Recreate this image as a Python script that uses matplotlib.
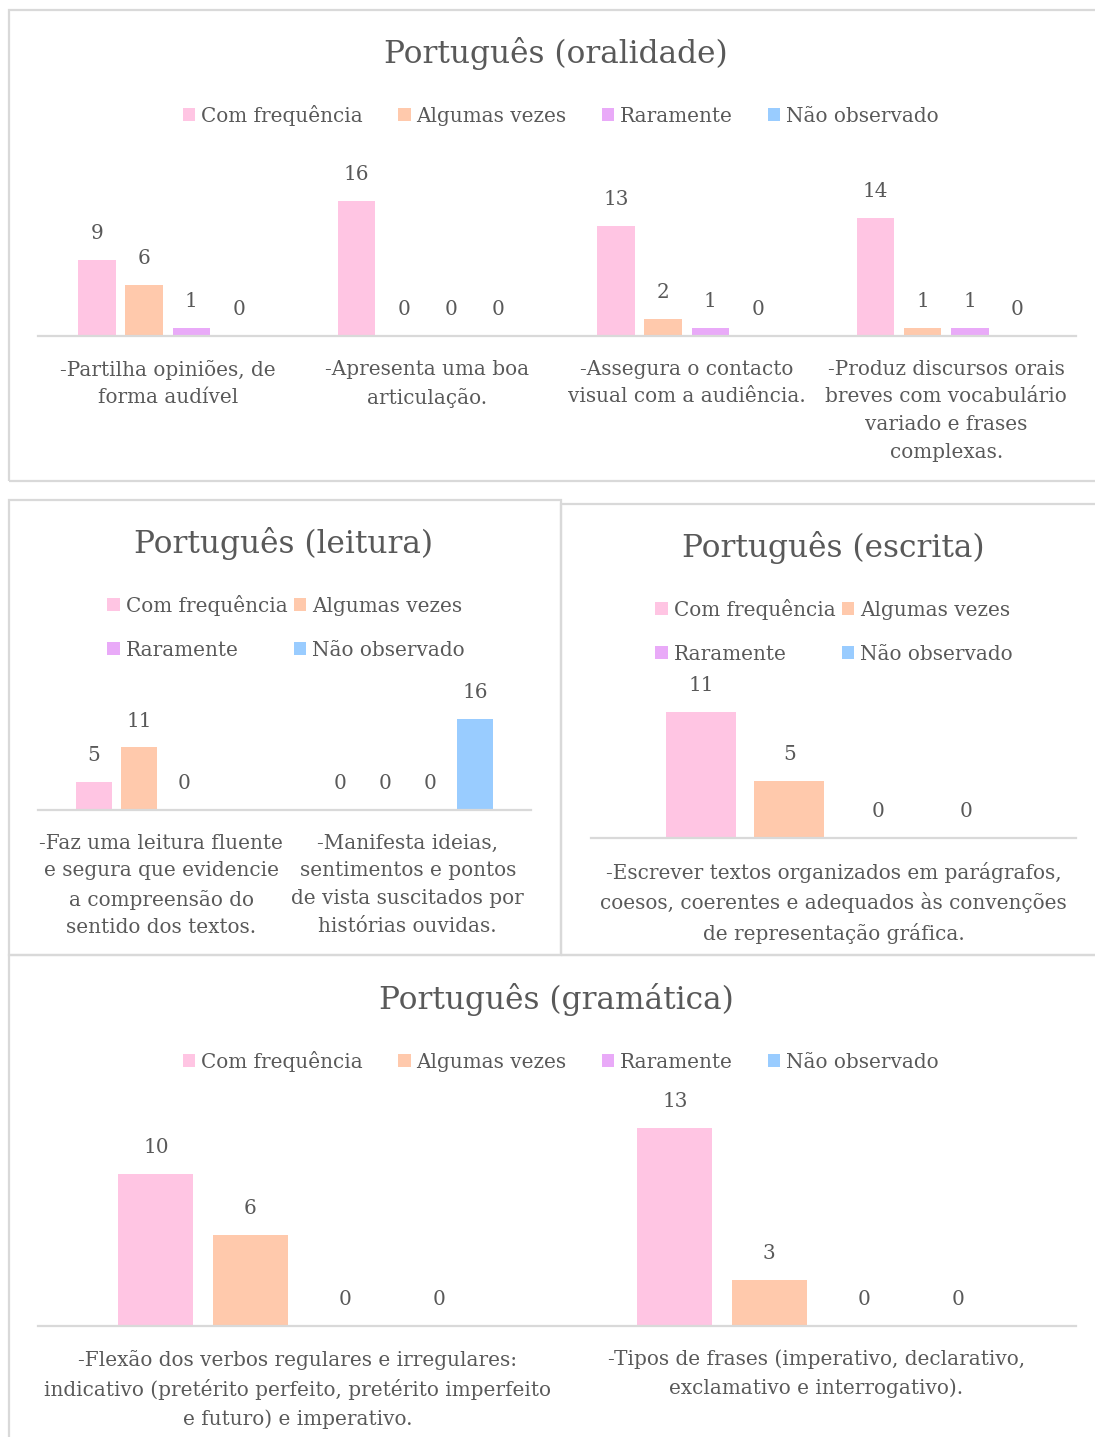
import matplotlib
matplotlib.use("Agg")
import matplotlib.pyplot as plt
from matplotlib.patches import Rectangle
import numpy as np

plt.rcParams['font.family'] = ['DejaVu Serif']

W, H = 1095, 1437
TXT = '#595959'
GRID = '#D9D9D9'
FS = 14.4

series = ['Com frequência', 'Algumas vezes', 'Raramente', 'Não observado']
colors = ['#FFC5E3', '#FFC9AC', '#E9AAF8', '#99CCFF']

# oralidade
oral_cats = ['-Partilha opiniões, de\nforma audível',
             '-Apresenta uma boa\narticulação.',
             '-Assegura o contacto\nvisual com a audiência.',
             '-Produz discursos orais\nbreves com vocabulário\nvariado e frases\ncomplexas.']
oral_freq = [9, 16, 13, 14]
oral_algumas = [6, 0, 2, 1]
oral_raramente = [1, 0, 1, 1]
oral_nao = [0, 0, 0, 0]

# leitura
leit_cats = ['-Faz uma leitura fluente\ne segura que evidencie\na compreensão do\nsentido dos textos.',
             '-Manifesta ideias,\nsentimentos e pontos\nde vista suscitados por\nhistórias ouvidas.']
leit_freq = [5, 0]
leit_algumas = [11, 0]
leit_raramente = [0, 0]
leit_nao = [np.nan, 16]

# escrita
escr_cats = ['-Escrever textos organizados em parágrafos,\ncoesos, coerentes e adequados às convenções\nde representação gráfica.']
escr_freq = [11]
escr_algumas = [5]
escr_raramente = [0]
escr_nao = [0]

# gramatica
gram_cats = ['-Flexão dos verbos regulares e irregulares:\nindicativo (pretérito perfeito, pretérito imperfeito\ne futuro) e imperativo.',
             '-Tipos de frases (imperativo, declarativo,\nexclamativo e interrogativo).']
gram_freq = [10, 13]
gram_algumas = [6, 3]
gram_raramente = [0, 0]
gram_nao = [0, 0]

fig = plt.figure(figsize=(W / 100, H / 100), dpi=100)


def box(x0, y0, x1, y1):
    r = Rectangle((x0 / W, 1 - y1 / H), (x1 - x0) / W, (y1 - y0) / H,
                  transform=fig.transFigure, fill=False, edgecolor=GRID, lw=1.6)
    fig.add_artist(r)


def panel(title, tx, ty, leg_xy, ncol, colsp, ax_x0, ax_x1, base, ppu, cats, data):
    fig.text(tx / W, 1 - ty / H, title, ha='center', va='center', fontsize=22.5, color=TXT)
    ymax = 18
    ax = fig.add_axes([ax_x0 / W, 1 - base / H, (ax_x1 - ax_x0) / W, ymax * ppu / H])
    n = len(cats)
    x = np.arange(n)
    handles = []
    for i, (vals, c) in enumerate(zip(data, colors)):
        pos = x + (i - 1.5) * 0.182
        b = ax.bar(pos, np.nan_to_num(vals), width=0.144, color=c, label=series[i])
        handles.append(b)
        for p, v in zip(pos, vals):
            if not np.isnan(v):
                ax.annotate(str(int(v)), (p, v), xytext=(0, 19), textcoords='offset points',
                            ha='center', va='center', fontsize=FS, color=TXT, annotation_clip=False)
    ax.set_xlim(-0.5, n - 0.5)
    ax.set_ylim(0, ymax)
    for s in ['top', 'left', 'right']:
        ax.spines[s].set_visible(False)
    ax.spines['bottom'].set_color(GRID)
    ax.spines['bottom'].set_linewidth(1.6)
    ax.set_yticks([])
    ax.set_xticks(x)
    ax.set_xticklabels(cats, fontsize=FS, color=TXT, linespacing=1.58)
    ax.tick_params(axis='x', length=0, pad=17)
    ax.patch.set_alpha(0)
    if ncol == 2:
        h = [handles[0], handles[2], handles[1], handles[3]]
        l = [series[0], series[2], series[1], series[3]]
    else:
        h, l = handles, series
    fig.legend(h, l, loc='center', bbox_to_anchor=(leg_xy[0] / W, 1 - leg_xy[1] / H), ncol=ncol,
               frameon=False, fontsize=FS, handlelength=0.62, handleheight=0.62, handletextpad=0.3,
               columnspacing=colsp, labelspacing=1.25, labelcolor=TXT)
    return ax


box(9, 10, 1100, 481)
box(9, 500, 561, 955)
box(561, 504, 1100, 955)
box(9, 955, 1100, 1445)

panel('Português (oralidade)', 556, 53, (561, 115), 4, 1.75, 38, 1076, 336, 8.44,
      oral_cats, [oral_freq, oral_algumas, oral_raramente, oral_nao])
panel('Português (leitura)', 284, 544, (286, 627), 2, 0.3, 38, 531, 810, 5.69,
      leit_cats, [leit_freq, leit_algumas, leit_raramente, leit_nao])
panel('Português (escrita)', 833, 548, (834, 631), 2, 0.3, 591, 1076, 838, 11.45,
      escr_cats, [escr_freq, escr_algumas, escr_raramente, escr_nao])
panel('Português (gramática)', 556, 999, (561, 1061), 4, 1.75, 38, 1076, 1326, 15.23,
      gram_cats, [gram_freq, gram_algumas, gram_raramente, gram_nao])

fig.savefig('out.png', dpi=100, facecolor='white')
